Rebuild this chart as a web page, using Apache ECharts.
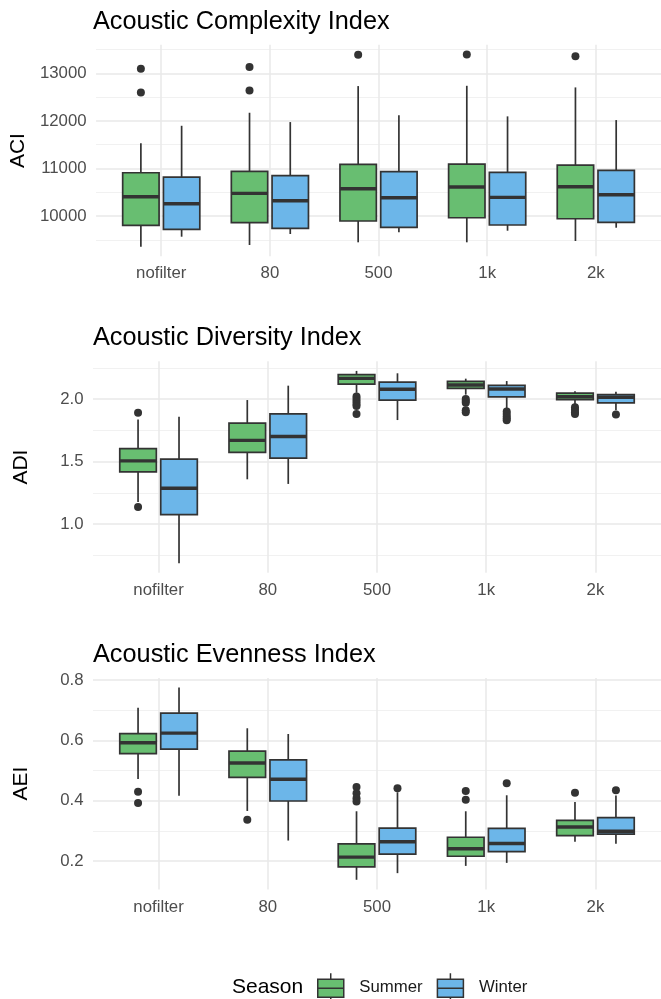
<!DOCTYPE html>
<html>
<head>
<meta charset="utf-8">
<script src="https://cdn.jsdelivr.net/npm/echarts@6/dist/echarts.min.js"></script>
<style>
  html, body { margin: 0; padding: 0; background: #ffffff; }
  #chart { width: 661px; height: 999px; }
</style>
</head>
<body>
<div id="chart"></div>
<script>
// Filter settings along the x axis
const categories = ['nofilter', '80', '500', '1k', '2k'];
const seasons = ['Summer', 'Winter'];

// Five-number summaries per filter: [lower whisker, Q1, median, Q3, upper whisker]
const aciSummer = [
  [9355, 9805, 10406, 10910, 11528],
  [9390, 9860, 10477, 10939, 12172],
  [9447, 9895, 10574, 11086, 12733],
  [9447, 9964, 10610, 11093, 12739],
  [9475, 9943, 10617, 11072, 12705]
];
const aciWinter = [
  [9565, 9720, 10259, 10820, 11898],
  [9622, 9741, 10322, 10848, 11976],
  [9657, 9762, 10385, 10932, 12117],
  [9691, 9811, 10393, 10918, 12096],
  [9754, 9867, 10448, 10961, 12018]
];
// Outliers: [filter index, value]
const aciSummerOutliers = [[0, 13098], [0, 12600], [1, 13133], [1, 12642], [2, 13391], [3, 13399], [4, 13363]];
const aciWinterOutliers = [];

const adiSummer = [
  [1.176, 1.417, 1.505, 1.604, 1.837],
  [1.358, 1.573, 1.669, 1.808, 1.992],
  [2.050, 2.120, 2.165, 2.195, 2.225],
  [2.035, 2.085, 2.112, 2.142, 2.163],
  [1.950, 1.995, 2.018, 2.048, 2.062]
];
const adiWinter = [
  [0.687, 1.075, 1.286, 1.519, 1.858],
  [1.321, 1.527, 1.700, 1.882, 2.107],
  [1.832, 1.992, 2.078, 2.136, 2.206],
  [1.925, 2.018, 2.080, 2.110, 2.144],
  [1.910, 1.970, 2.014, 2.035, 2.058]
];
const adiSummerOutliers = [
  [0, 1.890], [0, 1.136],
  [2, 2.020], [2, 2.000], [2, 1.980], [2, 1.960], [2, 1.945], [2, 1.880],
  [3, 2.000], [3, 1.985], [3, 1.970], [3, 1.910], [3, 1.895],
  [4, 1.935], [4, 1.915], [4, 1.895], [4, 1.880]
];
const adiWinterOutliers = [[3, 1.900], [3, 1.880], [3, 1.860], [3, 1.845], [3, 1.830], [4, 1.877]];

const aeiSummer = [
  [0.472, 0.556, 0.592, 0.622, 0.708],
  [0.366, 0.477, 0.525, 0.564, 0.640],
  [0.138, 0.181, 0.213, 0.257, 0.365],
  [0.184, 0.216, 0.241, 0.279, 0.365],
  [0.264, 0.284, 0.313, 0.335, 0.396]
];
const aeiWinter = [
  [0.416, 0.571, 0.624, 0.690, 0.775],
  [0.268, 0.399, 0.471, 0.535, 0.621],
  [0.160, 0.223, 0.264, 0.309, 0.428],
  [0.194, 0.231, 0.258, 0.308, 0.418],
  [0.257, 0.289, 0.299, 0.344, 0.417]
];
const aeiSummerOutliers = [[0, 0.430], [0, 0.392], [1, 0.337], [2, 0.445], [2, 0.425], [2, 0.408], [2, 0.397], [3, 0.432], [3, 0.403], [4, 0.426]];
const aeiWinterOutliers = [[2, 0.441], [3, 0.458], [4, 0.435]];

// Gridline / tick values
const aciMajorTicks = [10000, 11000, 12000, 13000];
const aciMinorTicks = [9500, 10500, 11500, 12500, 13500];
const adiMajorTicks = [1.0, 1.5, 2.0];
const adiMinorTicks = [0.75, 1.25, 1.75, 2.25];
const aeiMajorTicks = [0.2, 0.4, 0.6, 0.8];
const aeiMinorTicks = [0.3, 0.5, 0.7];

// ---- styling ----
const FONT = '"Liberation Sans", Arial, Helvetica, sans-serif';
const GREEN = '#68be71';
const BLUE = '#6cb6e9';
const EDGE = '#333333';
const GRID_MAJOR = '#e9e9e9';
const GRID_MINOR = '#f1f1f1';
const DODGE = 0.1875;   // offset of each season's box from the category centre
const HALF = 0.1675;    // half box width, in category units
const PANEL_TOP = [44.8, 361.3, 677.9];
const PANEL_H = 211.5;

const panels = [
  { title: 'Acoustic Complexity Index', axisName: 'ACI', summer: aciSummer, winter: aciWinter,
    summerOut: aciSummerOutliers, winterOut: aciWinterOutliers, major: aciMajorTicks, minor: aciMinorTicks, digits: 0 },
  { title: 'Acoustic Diversity Index', axisName: 'ADI', summer: adiSummer, winter: adiWinter,
    summerOut: adiSummerOutliers, winterOut: adiWinterOutliers, major: adiMajorTicks, minor: adiMinorTicks, digits: 1 },
  { title: 'Acoustic Evenness Index', axisName: 'AEI', summer: aeiSummer, winter: aeiWinter,
    summerOut: aeiSummerOutliers, winterOut: aeiWinterOutliers, major: aeiMajorTicks, minor: aeiMinorTicks, digits: 1 }
];

// y range: data extent padded by 5% on both sides
function paddedExtent(p) {
  const vals = [];
  p.summer.concat(p.winter).forEach(s => vals.push(s[0], s[4]));
  p.summerOut.concat(p.winterOut).forEach(o => vals.push(o[1]));
  const lo = Math.min(...vals), hi = Math.max(...vals);
  const pad = (hi - lo) * 0.05;
  return [lo - pad, hi + pad];
}

function boxItem(offset) {
  return function (params, api) {
    const x = api.value(0);
    const xl = api.coord([x + offset - HALF, api.value(3)])[0];
    const xr = api.coord([x + offset + HALF, api.value(3)])[0];
    const xc = api.coord([x + offset, api.value(3)])[0];
    const py = i => api.coord([x, api.value(i)])[1];
    const yLo = py(1), yQ1 = py(2), yMed = py(3), yQ3 = py(4), yHi = py(5);
    const fill = api.visual('color');
    const w = { stroke: EDGE, lineWidth: 1.7 };
    return {
      type: 'group',
      children: [
        { type: 'line', shape: { x1: xc, y1: yHi, x2: xc, y2: yQ3 }, style: w },
        { type: 'line', shape: { x1: xc, y1: yQ1, x2: xc, y2: yLo }, style: w },
        { type: 'rect', shape: { x: xl, y: yQ3, width: xr - xl, height: yQ1 - yQ3 },
          style: { fill: fill, stroke: EDGE, lineWidth: 1.7 } },
        { type: 'line', shape: { x1: xl, y1: yMed, x2: xr, y2: yMed }, style: { stroke: EDGE, lineWidth: 3.4 } }
      ]
    };
  };
}

function pointItem(offset) {
  return function (params, api) {
    const c = api.coord([api.value(0) + offset, api.value(1)]);
    return { type: 'circle', shape: { cx: c[0], cy: c[1], r: 4 }, style: { fill: EDGE } };
  };
}

const grid = [], xAxis = [], yAxis = [], series = [], title = [];

panels.forEach((p, k) => {
  const [ymin, ymax] = paddedExtent(p);
  grid.push({ left: 93, width: 571, top: PANEL_TOP[k], height: PANEL_H });
  title.push({
    text: p.title, left: 93, top: PANEL_TOP[k] - 35.5, padding: 0,
    textStyle: { fontFamily: FONT, fontSize: 25.3, fontWeight: 'normal', color: '#000000' }
  });
  const catTicks = categories.map((c, i) => i + 1);
  xAxis.push({
    type: 'value', gridIndex: k, min: 0.4, max: 5.6,
    axisLine: { show: false },
    axisTick: { show: false, customValues: catTicks },
    axisLabel: {
      customValues: catTicks, margin: 9,
      formatter: v => categories[Math.round(v) - 1],
      fontFamily: FONT, fontSize: 16.8, color: '#4d4d4d'
    },
    splitLine: { show: true, lineStyle: { color: GRID_MAJOR, width: 1.5 } }
  });
  yAxis.push({
    type: 'value', gridIndex: k, min: ymin, max: ymax,
    name: p.axisName, nameLocation: 'middle', nameGap: 71.5,
    nameTextStyle: { fontFamily: FONT, fontSize: 21, color: '#000000', align: 'center', verticalAlign: 'middle' },
    axisLine: { show: false },
    axisTick: { show: false, customValues: p.major },
    axisLabel: {
      customValues: p.major, margin: 9.5,
      formatter: v => Number(v).toFixed(p.digits),
      fontFamily: FONT, fontSize: 16.8, color: '#4d4d4d'
    },
    splitLine: { show: true, lineStyle: { color: GRID_MAJOR, width: 1.5 } },
    z: 1
  });
  yAxis.push({
    type: 'value', gridIndex: k, min: ymin, max: ymax, position: 'left',
    axisLine: { show: false },
    axisTick: { show: false, customValues: p.minor },
    axisLabel: { show: false, customValues: p.minor },
    splitLine: { show: true, lineStyle: { color: GRID_MINOR, width: 1 } },
    z: 0
  });

  [[p.summer, p.summerOut, GREEN, -DODGE, 'Summer'], [p.winter, p.winterOut, BLUE, DODGE, 'Winter']]
    .forEach(([stats, outs, color, off, name]) => {
      series.push({
        type: 'custom', name: name, xAxisIndex: k, yAxisIndex: 2 * k,
        itemStyle: { color: color },
        encode: { x: 0, y: [1, 2, 3, 4, 5] },
        data: stats.map((s, i) => [i + 1].concat(s)),
        renderItem: boxItem(off), z: 3
      });
      series.push({
        type: 'custom', name: name + ' outliers', xAxisIndex: k, yAxisIndex: 2 * k,
        encode: { x: 0, y: 1 },
        data: outs.map(o => [o[0] + 1, o[1]]),
        renderItem: pointItem(off), z: 4
      });
    });
});

title.push({
  text: 'Season', left: 232, top: 976.5, padding: 0,
  textStyle: { fontFamily: FONT, fontSize: 21, fontWeight: 'normal', color: '#000000' }
});

const chart = echarts.init(document.getElementById('chart'), null, { renderer: 'canvas' });
chart.setOption({
  animation: false,
  backgroundColor: '#ffffff',
  title: title,
  grid: grid,
  xAxis: xAxis,
  yAxis: yAxis,
  legend: {
    data: seasons, left: 317, top: 972.5, orient: 'horizontal', padding: 0,
    itemWidth: 27, itemHeight: 28, itemGap: 14,
    icon: 'path://M13 0L13 6M0 6L26 6L26 24L0 24ZM0 15L26 15M13 24L13 28',
    itemStyle: { borderColor: EDGE, borderWidth: 1.5 },
    textStyle: { fontFamily: FONT, fontSize: 16.8, color: '#1a1a1a', padding: [0, 0, 0, 10] },
    selectedMode: false
  },
  series: series
});
</script>
</body>
</html>
